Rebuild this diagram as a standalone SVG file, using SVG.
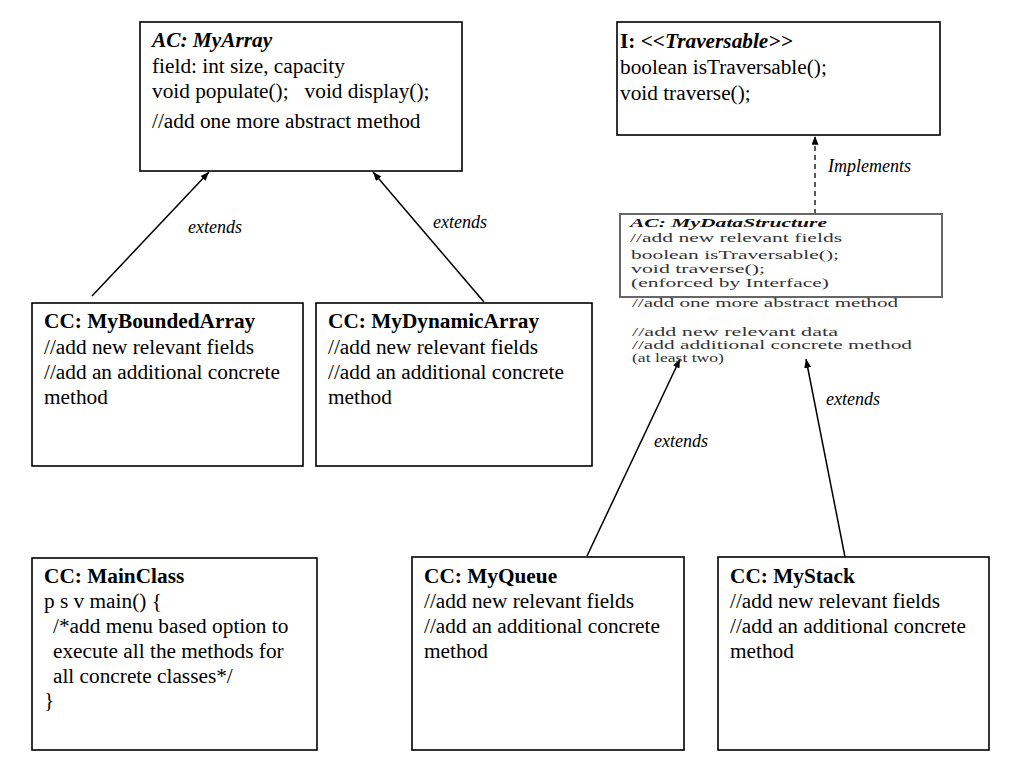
<svg xmlns="http://www.w3.org/2000/svg" width="1024" height="773" viewBox="0 0 1024 773">
<defs>
<marker id="ah" viewBox="0 0 10 8" refX="10" refY="4" markerWidth="9" markerHeight="7" markerUnits="userSpaceOnUse" orient="auto">
<path d="M0,0 L10,4 L0,8 Z" fill="#000"/>
</marker>
</defs>
<style>
.box{fill:#fff;stroke:#000;stroke-width:1.6}
.box2{fill:#fff;stroke:#666;stroke-width:2}
.t{font-family:"Liberation Serif","Times New Roman",serif;font-size:21.3px;fill:#000;white-space:pre}
.b{font-weight:bold}
.bi{font-weight:bold;font-style:italic}
.s{font-family:"Liberation Serif","Times New Roman",serif;font-size:12.5px;fill:#333;white-space:pre}
.sb{font-family:"Liberation Serif","Times New Roman",serif;font-size:12.5px;fill:#111;font-weight:bold;font-style:italic}
.lbl{font-family:"Liberation Serif","Times New Roman",serif;font-size:18px;font-style:italic;fill:#000}
.c{stroke:#000;stroke-width:1.5;fill:none;marker-end:url(#ah)}
.d{stroke:#000;stroke-width:1.3;fill:none;stroke-dasharray:5,4;marker-end:url(#ah)}
</style>
<rect width="1024" height="773" fill="#fff"/>

<g id="connectors">
<line class="c" x1="92" y1="296" x2="209" y2="172"/>
<line class="c" x1="484" y1="302" x2="373" y2="172"/>
<line class="d" x1="815" y1="214" x2="815" y2="136"/>
<line class="c" x1="587" y1="556" x2="680" y2="359"/>
<line class="c" x1="845" y1="557" x2="806" y2="359"/>
<text class="lbl" x="188" y="233">extends</text>
<text class="lbl" x="433" y="228">extends</text>
<text class="lbl" x="828" y="172">Implements</text>
<text class="lbl" x="654" y="447">extends</text>
<text class="lbl" x="826" y="405">extends</text>
</g>

<g id="MyArray">
<rect class="box" x="140" y="22" width="322" height="149"/>
<text class="t bi" x="152" y="47">AC: MyArray</text>
<text class="t" x="152" y="73">field: int size, capacity</text>
<text class="t" x="152" y="98">void populate();   void display();</text>
<text class="t" x="152" y="128">//add one more abstract method</text>
</g>

<g id="Traversable">
<rect class="box" x="617" y="22" width="323" height="113"/>
<text class="t" x="620" y="48"><tspan class="b">I: </tspan><tspan class="bi">&lt;&lt;Traversable&gt;&gt;</tspan></text>
<text class="t" x="620" y="74">boolean isTraversable();</text>
<text class="t" x="620" y="100">void traverse();</text>
</g>

<g id="MyDataStructure">
<rect class="box2" x="620" y="214" width="322" height="83"/>
<text class="sb" x="630" y="227" textLength="197" lengthAdjust="spacingAndGlyphs">AC: MyDataStructure</text>
<text class="s" x="630" y="242" textLength="212" lengthAdjust="spacingAndGlyphs">//add new relevant fields</text>
<text class="s" x="631" y="259" textLength="208" lengthAdjust="spacingAndGlyphs">boolean isTraversable();</text>
<text class="s" x="631" y="273" textLength="134" lengthAdjust="spacingAndGlyphs">void traverse();</text>
<text class="s" x="631" y="287" textLength="198" lengthAdjust="spacingAndGlyphs">(enforced by Interface)</text>
<text class="s" x="632" y="307" textLength="266" lengthAdjust="spacingAndGlyphs">//add one more abstract method</text>
<text class="s" x="632" y="336" textLength="206" lengthAdjust="spacingAndGlyphs">//add new relevant data</text>
<text class="s" x="632" y="349" textLength="280" lengthAdjust="spacingAndGlyphs">//add additional concrete method</text>
<text class="s" x="632" y="362" textLength="92" lengthAdjust="spacingAndGlyphs">(at least two)</text>
</g>

<g id="MyBoundedArray">
<rect class="box" x="32" y="303" width="271" height="163"/>
<text class="t b" x="44" y="328">CC: MyBoundedArray</text>
<text class="t" x="44" y="354">//add new relevant fields</text>
<text class="t" x="44" y="379">//add an additional concrete</text>
<text class="t" x="44" y="404">method</text>
</g>

<g id="MyDynamicArray">
<rect class="box" x="316" y="303" width="276" height="163"/>
<text class="t b" x="328" y="328">CC: MyDynamicArray</text>
<text class="t" x="328" y="354">//add new relevant fields</text>
<text class="t" x="328" y="379">//add an additional concrete</text>
<text class="t" x="328" y="404">method</text>
</g>

<g id="MainClass">
<rect class="box" x="32" y="558" width="285" height="192"/>
<text class="t b" x="44" y="583">CC: MainClass</text>
<text class="t" x="44" y="608">p s v main() {</text>
<text class="t" x="53" y="633">/*add menu based option to</text>
<text class="t" x="53" y="658">execute all the methods for</text>
<text class="t" x="53" y="683">all concrete classes*/</text>
<text class="t" x="44" y="707">}</text>
</g>

<g id="MyQueue">
<rect class="box" x="412" y="557" width="272" height="193"/>
<text class="t b" x="424" y="583">CC: MyQueue</text>
<text class="t" x="424" y="608">//add new relevant fields</text>
<text class="t" x="424" y="633">//add an additional concrete</text>
<text class="t" x="424" y="658">method</text>
</g>

<g id="MyStack">
<rect class="box" x="718" y="557" width="271" height="193"/>
<text class="t b" x="730" y="583">CC: MyStack</text>
<text class="t" x="730" y="608">//add new relevant fields</text>
<text class="t" x="730" y="633">//add an additional concrete</text>
<text class="t" x="730" y="658">method</text>
</g>
</svg>
